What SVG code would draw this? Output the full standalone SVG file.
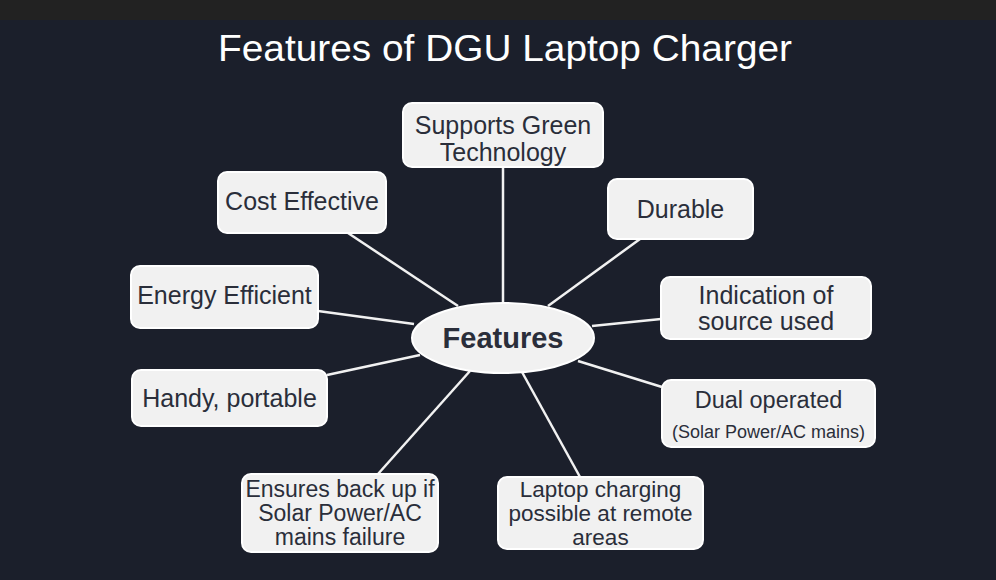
<svg xmlns="http://www.w3.org/2000/svg" width="996" height="580" viewBox="0 0 996 580">
<style>
.bg{fill:#1b1f2b}
.box{fill:#f1f1f1;stroke:#ffffff;stroke-width:2}
.t{font-family:"Liberation Sans",Arial,sans-serif;font-size:25px;fill:#2a2e3a;text-anchor:middle}
.c line{stroke:#f1f1f1;stroke-width:2.5}
</style>
<rect width="996" height="580" class="bg"/>
<rect width="996" height="20" fill="#222222"/>
<text x="505" y="61" font-family="'Liberation Sans',Arial,sans-serif" font-size="37" fill="#ffffff" text-anchor="middle" textLength="574" lengthAdjust="spacingAndGlyphs">Features of DGU Laptop Charger</text>
<g class="c">
<line x1="503" y1="167" x2="503" y2="304"/>
<line x1="640" y1="239" x2="548" y2="306"/>
<line x1="348" y1="233" x2="458" y2="306"/>
<line x1="318" y1="311" x2="414" y2="324"/>
<line x1="661" y1="319" x2="592" y2="326"/>
<line x1="662" y1="387" x2="578" y2="361"/>
<line x1="327" y1="375" x2="420" y2="355"/>
<line x1="378" y1="474" x2="470" y2="371"/>
<line x1="580" y1="477" x2="522" y2="372"/>
</g>
<g id="center"><ellipse cx="503" cy="338" rx="91" ry="35" class="box"/><text x="503" y="348" class="t" style="font-size:29px;font-weight:bold">Features</text></g>
<g id="green"><rect x="403" y="103" width="200" height="64" rx="9" class="box"/><text x="503" y="134" class="t">Supports Green</text><text x="503" y="161" class="t">Technology</text></g>
<g id="durable"><rect x="608" y="179" width="145" height="60" rx="9" class="box"/><text x="680.5" y="218" class="t">Durable</text></g>
<g id="cost"><rect x="218" y="172" width="168" height="61" rx="9" class="box"/><text x="302" y="210" class="t">Cost Effective</text></g>
<g id="energy"><rect x="131" y="266" width="187" height="62" rx="9" class="box"/><text x="224.5" y="304" class="t">Energy Efficient</text></g>
<g id="indication"><rect x="661" y="277" width="210" height="62" rx="9" class="box"/><text x="766" y="304" class="t">Indication of</text><text x="766" y="330" class="t">source used</text></g>
<g id="dual"><rect x="662" y="380" width="213" height="67" rx="9" class="box"/><text x="768.5" y="408" class="t" style="font-size:23.5px">Dual operated</text><text x="768.5" y="438" class="t" style="font-size:18px">(Solar Power/AC mains)</text></g>
<g id="handy"><rect x="132" y="370" width="195" height="56" rx="9" class="box"/><text x="229.5" y="407" class="t">Handy, portable</text></g>
<g id="backup"><rect x="242" y="474" width="196" height="78" rx="9" class="box"/><text x="340" y="497" class="t" style="font-size:23px">Ensures back up if</text><text x="340" y="521" class="t" style="font-size:23px">Solar Power/AC</text><text x="340" y="545" class="t" style="font-size:23px">mains failure</text></g>
<g id="remote"><rect x="498" y="477" width="205" height="72" rx="9" class="box"/><text x="600.5" y="497" class="t" style="font-size:22.5px">Laptop charging</text><text x="600.5" y="521" class="t" style="font-size:22.5px">possible at remote</text><text x="600.5" y="545" class="t" style="font-size:22.5px">areas</text></g>
</svg>
